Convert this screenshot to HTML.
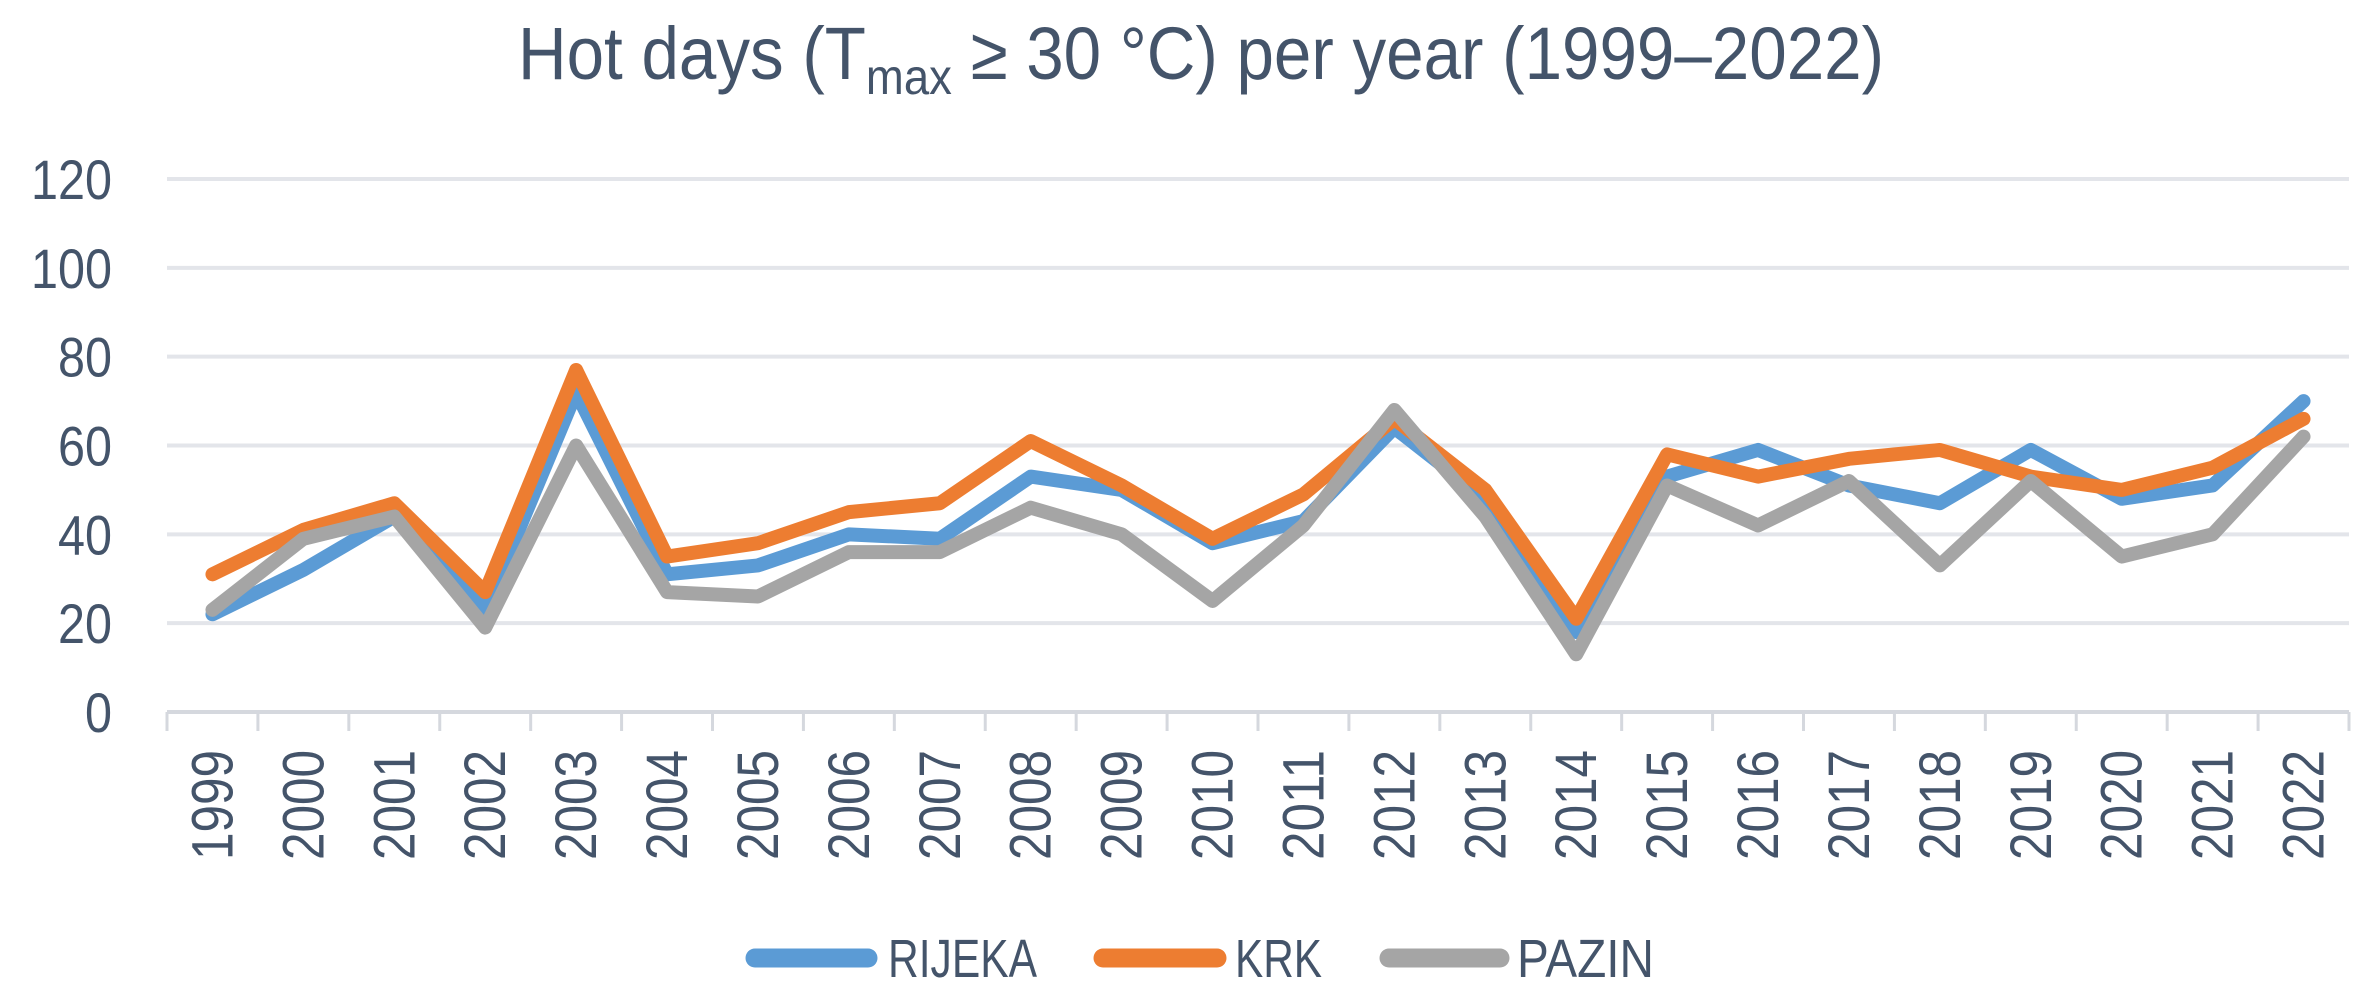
<!DOCTYPE html>
<html><head><meta charset="utf-8"><style>
html,body{margin:0;padding:0;background:#fff}
svg{display:block}
text{font-family:"Liberation Sans",sans-serif;fill:#44546A}
</style></head><body>
<svg id="chart" width="2373" height="1001" viewBox="0 0 2373 1001" xmlns="http://www.w3.org/2000/svg">
<text x="1201" y="79" text-anchor="middle" font-size="74" textLength="1366" lengthAdjust="spacingAndGlyphs">Hot days (T<tspan font-size="50" dy="15">max</tspan><tspan dy="-15"> ≥ 30 °C) per year (1999–2022)</tspan></text>
<g id="grid"></g>
<g id="yaxis"></g>
<g id="xaxis"></g>
<g id="series"></g>
<g>
<g><line x1="755" y1="958" x2="868" y2="958" stroke="#5B9BD5" stroke-width="19" stroke-linecap="round"/><text x="888" y="977" font-size="54" textLength="149" lengthAdjust="spacingAndGlyphs">RIJEKA</text></g>
<g><line x1="1103" y1="958" x2="1217" y2="958" stroke="#ED7D31" stroke-width="19" stroke-linecap="round"/><text x="1235" y="977" font-size="54" textLength="87" lengthAdjust="spacingAndGlyphs">KRK</text></g>
<g><line x1="1389" y1="958" x2="1500" y2="958" stroke="#A5A5A5" stroke-width="19" stroke-linecap="round"/><text x="1517" y="977" font-size="54" textLength="137" lengthAdjust="spacingAndGlyphs">PAZIN</text></g>
</g>
</svg>
<script>
const years = ["1999","2000","2001","2002","2003","2004","2005","2006","2007","2008","2009","2010","2011","2012","2013","2014","2015","2016","2017","2018","2019","2020","2021","2022"];
const rijeka = [22,32,44,23,72,31,33,40,39,53,50,38,43,64,48,18,53,59,51,47,59,48,51,70];
const krk = [31,41,47,27,77,35,38,45,47,61,51,39,49,66,50,21,58,53,57,59,53,50,55,66];
const pazin = [23,39,44,19,60,27,26,36,36,46,40,25,42,68,44,13,51,42,52,33,52,35,40,62];
const yTicks = [0,20,40,60,80,100,120];

const NS="http://www.w3.org/2000/svg";
const L=167,R=2349,T=179,B=712,YMAX=120;
const bw=(R-L)/years.length;
const xs=i=>L+bw*(i+0.5);
const ys=v=>B-(v/YMAX)*(B-T);
function mk(tag,parent,attrs){const e=document.createElementNS(NS,tag);for(const k in attrs)e.setAttribute(k,attrs[k]);parent.appendChild(e);return e;}
const grid=document.getElementById('grid'),yax=document.getElementById('yaxis'),xax=document.getElementById('xaxis'),ser=document.getElementById('series');
yTicks.forEach(v=>{
  const g=mk('line',grid,{x1:L,x2:R,y1:ys(v),y2:ys(v),stroke:v===0?'#D5D8DE':'#E3E5EA','stroke-width':4});
  
  
  const s=String(v);
  const t=mk('text',yax,{x:112,y:ys(v)+20,'text-anchor':'end','font-size':56,textLength:27*s.length,lengthAdjust:'spacingAndGlyphs'});
  t.textContent=s;
  
  
});
for(let i=0;i<=years.length;i++){
  const x=L+bw*i;
  const tk=mk('line',xax,{x1:x,x2:x,y1:B,y2:731,stroke:'#D5D8DE','stroke-width':3});
  
  
}
years.forEach((y,i)=>{
  const t=mk('text',xax,{transform:`translate(${xs(i)+20},750) rotate(-90)`,'text-anchor':'end','font-size':58,textLength:110,lengthAdjust:'spacingAndGlyphs'});
  t.textContent=y;
  
  
});
[[rijeka,'#5B9BD5','rijeka'],[krk,'#ED7D31','krk'],[pazin,'#A5A5A5','pazin']].forEach(([d,c,n])=>{
  const p=mk('polyline',ser,{points:d.map((v,i)=>xs(i)+','+ys(v)).join(' '),fill:'none',stroke:c,'stroke-width':14,'stroke-linejoin':'round','stroke-linecap':'round'});
  
  
});
</script>
</body></html>
